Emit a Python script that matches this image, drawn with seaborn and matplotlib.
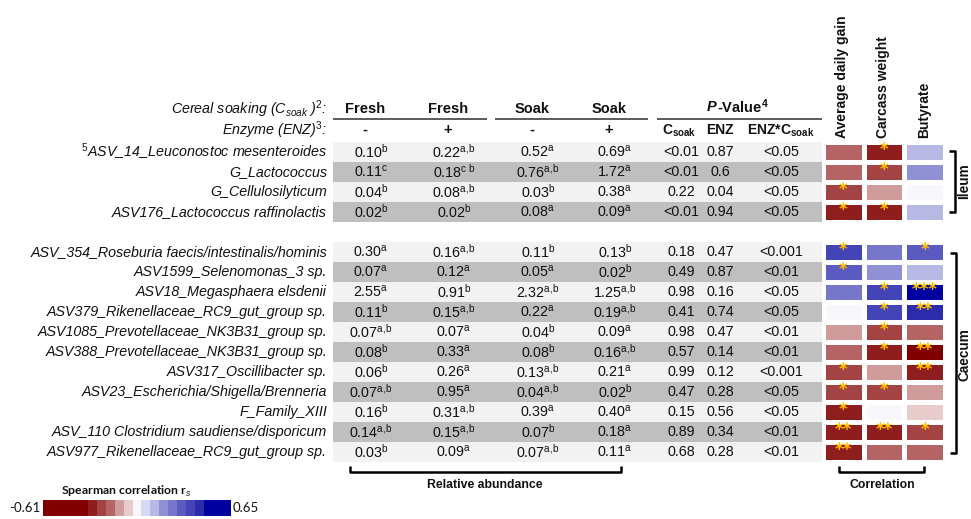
import numpy as np
import pandas as pd
import matplotlib
matplotlib.use("Agg")
import matplotlib.pyplot as plt
import seaborn as sns
from matplotlib.colors import ListedColormap, BoundaryNorm
from matplotlib.cm import ScalarMappable
from matplotlib.patches import Rectangle

plt.rcParams['font.family'] = ['Liberation Sans', 'DejaVu Sans']
plt.rcParams['mathtext.fontset'] = 'custom'
plt.rcParams['mathtext.rm'] = 'Liberation Sans'
plt.rcParams['mathtext.it'] = 'Liberation Sans:italic'
plt.rcParams['mathtext.bf'] = 'Liberation Sans:bold'

# ---- data ----
taxa = [
    "$^5$ASV_14_Leuconostoc mesenteroides",
    "G_Lactococcus",
    "G_Cellulosilyticum",
    "ASV176_Lactococcus raffinolactis",
    "ASV_354_Roseburia faecis/intestinalis/hominis",
    "ASV1599_Selenomonas_3 sp.",
    "ASV18_Megasphaera elsdenii",
    "ASV379_Rikenellaceae_RC9_gut_group sp.",
    "ASV1085_Prevotellaceae_NK3B31_group sp.",
    "ASV388_Prevotellaceae_NK3B31_group sp.",
    "ASV317_Oscillibacter sp.",
    "ASV23_Escherichia/Shigella/Brenneria",
    "F_Family_XIII",
    "ASV_110 Clostridium saudiense/disporicum",
    "ASV977_Rikenellaceae_RC9_gut_group sp.",
]
n_ileum = 4

fresh_minus = ["0.10", "0.11", "0.04", "0.02", "0.30", "0.07", "2.55", "0.11",
               "0.07", "0.08", "0.06", "0.07", "0.16", "0.14", "0.03"]
fresh_minus_sup = ["b", "c", "b", "b", "a", "a", "a", "b",
                   "a,b", "b", "b", "a,b", "b", "a,b", "b"]
fresh_plus = ["0.22", "0.18", "0.08", "0.02", "0.16", "0.12", "0.91", "0.15",
              "0.07", "0.33", "0.26", "0.95", "0.31", "0.15", "0.09"]
fresh_plus_sup = ["a,b", "c b", "a,b", "b", "a,b", "a", "b", "a,b",
                  "a", "a", "a", "a", "a,b", "a,b", "a"]
soak_minus = ["0.52", "0.76", "0.03", "0.08", "0.11", "0.05", "2.32", "0.22",
              "0.04", "0.08", "0.13", "0.04", "0.39", "0.07", "0.07"]
soak_minus_sup = ["a", "a,b", "b", "a", "b", "a", "a,b", "a",
                  "b", "b", "a,b", "a,b", "a", "b", "a,b"]
soak_plus = ["0.69", "1.72", "0.38", "0.09", "0.13", "0.02", "1.25", "0.19",
             "0.09", "0.16", "0.21", "0.02", "0.40", "0.18", "0.11"]
soak_plus_sup = ["a", "a", "a", "a", "b", "b", "a,b", "a,b",
                 "a", "a,b", "a", "b", "a", "a", "a"]

p_csoak = ["<0.01", "<0.01", "0.22", "<0.01", "0.18", "0.49", "0.98", "0.41",
           "0.98", "0.57", "0.99", "0.47", "0.15", "0.89", "0.68"]
p_enz = ["0.87", "0.6", "0.04", "0.94", "0.47", "0.87", "0.16", "0.74",
         "0.47", "0.14", "0.12", "0.28", "0.56", "0.34", "0.28"]
p_inter = ["<0.05", "<0.05", "<0.05", "<0.05", "<0.001", "<0.01", "<0.05", "<0.05",
           "<0.01", "<0.01", "<0.001", "<0.05", "<0.05", "<0.01", "<0.01"]

corr_traits = ["Average daily gain", "Carcass weight", "Butyrate"]
adg_r = [-0.17, -0.17, -0.23, -0.29, 0.38, 0.32, 0.26, 0.03,
         -0.10, -0.15, -0.22, -0.24, -0.27, -0.29, -0.30]
cw_r = [-0.27, -0.23, -0.10, -0.26, 0.25, 0.21, 0.38, 0.37,
        -0.23, -0.27, -0.08, -0.22, 0.03, -0.29, -0.15]
but_r = [0.12, 0.20, 0.02, 0.14, 0.33, 0.12, 0.60, 0.44,
         -0.16, -0.45, -0.30, -0.09, -0.04, -0.21, -0.18]
adg_sig = ["", "", "*", "*", "*", "*", "", "", "", "", "*", "*", "*", "**", "**"]
cw_sig = ["*", "*", "", "*", "", "", "*", "*", "*", "*", "", "*", "", "**", ""]
but_sig = ["", "", "", "", "*", "", "***", "**", "", "**", "**", "", "", "*", ""]

cbar_bounds = [-0.61, -0.31, -0.25, -0.19, -0.13, -0.07, -0.01, 0.05,
               0.11, 0.17, 0.23, 0.29, 0.35, 0.41, 0.47, 0.65]
cbar_colors = ["#800000", "#8e1e1e", "#a34343", "#b46464", "#cf9b9b", "#e8cccc",
               "#f7f7fc", "#d8d8f1", "#b8b8e4", "#9090d5", "#7676cb", "#5a5ac1",
               "#4444b6", "#2c2cab", "#0000a0"]

# ---- layout (pixels) ----
W, H = 971, 519
ROW0, PITCH = 142, 20
TAB_L, TAB_R = 333, 822
col_x = [368, 451, 535, 612]
p_x = [681, 720, 781]
txt = "#111111"
NUM_FS = 10.3


def grid_row(i):
    return i if i < n_ileum else i + 1


def row_y(i):
    return ROW0 + PITCH * grid_row(i) + PITCH / 2


def sup(s):
    s = s.replace(",", "{,}").replace(" ", r"\ ")
    return "$^{\\mathregular{" + s + "}}$"


fig = plt.figure(figsize=(W / 100, H / 100), dpi=100)
ax = fig.add_axes([0, 0, 1, 1])
ax.set_xlim(0, W)
ax.set_ylim(H, 0)
ax.axis("off")

# table rows
groups = [(fresh_minus, fresh_minus_sup), (fresh_plus, fresh_plus_sup),
          (soak_minus, soak_minus_sup), (soak_plus, soak_plus_sup)]
for i, name in enumerate(taxa):
    local = i if i < n_ileum else i - n_ileum
    shade = "#f2f2f2" if local % 2 == 0 else "#bfbfbf"
    top = ROW0 + PITCH * grid_row(i)
    ax.add_patch(Rectangle((TAB_L, top), TAB_R - TAB_L, PITCH, color=shade, lw=0))
    y = row_y(i)
    ax.text(327, y, name, ha="right", va="center", style="italic", fontsize=10.3, color=txt)
    for x, (vals, sups) in zip(col_x, groups):
        ax.text(x + 3, y, vals[i] + sup(sups[i]),
                ha="center", va="center", fontsize=NUM_FS, color=txt)
    for x, vals in zip(p_x, [p_csoak, p_enz, p_inter]):
        ax.text(x, y, vals[i], ha="center", va="center", fontsize=NUM_FS, color=txt)

# header
ax.text(327, 109, r"Cereal soaking (C$_{\mathit{soak}}$ )$^{\mathit{2}}$:", ha="right",
        va="center", style="italic", fontsize=10.3, color=txt)
ax.text(327, 130, r"Enzyme (ENZ)$^{\mathit{3}}$:", ha="right", va="center",
        style="italic", fontsize=10.3, color=txt)
for x, lab, sign in zip(col_x, ["Fresh", "Fresh", "Soak", "Soak"], ["-", "+", "-", "+"]):
    ax.text(x - 3, 109, lab, ha="center", va="center", fontsize=10.5, fontweight="bold", color=txt)
    ax.text(x - 3, 130, sign, ha="center", va="center", fontsize=10.5, fontweight="bold", color=txt)
ax.text(716, 107, "P", ha="right", va="center", fontsize=10.5, fontweight="bold",
        style="italic", color=txt)
ax.text(717, 107, "-Value$^{\\mathbf{4}}$", ha="left", va="center", fontsize=10.5,
        fontweight="bold", color=txt)
ax.text(p_x[0] - 2, 131, r"C$_{\mathbf{soak}}$", ha="center", va="center", fontsize=10,
        fontweight="bold", color=txt)
ax.text(p_x[1], 130, "ENZ", ha="center", va="center", fontsize=10, fontweight="bold", color=txt)
ax.text(p_x[2], 131, r"ENZ*C$_{\mathbf{soak}}$", ha="center", va="center", fontsize=10,
        fontweight="bold", color=txt)
for x0, x1 in [(333, 487), (495, 648), (657, 822)]:
    ax.plot([x0, x1], [119, 119], color="#404040", lw=1.2, solid_capstyle="butt")

# brackets
bk = dict(color="black", lw=1.8, solid_capstyle="butt")
ax.plot([350, 350, 621, 621], [466, 472, 472, 466], **bk)
ax.text(485, 485, "Relative abundance", ha="center", va="center", fontsize=8.8,
        fontweight="bold", color=txt)
ax.plot([839, 839, 924, 924], [466, 472, 472, 466], **bk)
ax.text(882, 485, "Correlation", ha="center", va="center", fontsize=8.8,
        fontweight="bold", color=txt)
ax.plot([949, 955, 955, 949], [151, 151, 212, 212], **bk)
ax.text(964.5, 181, "Ileum", rotation=90, ha="center", va="center", fontsize=9.8,
        fontweight="bold", color=txt)
ax.plot([950, 956, 956, 950], [253, 253, 453, 453], **bk)
ax.text(964.5, 355, "Caecum", rotation=90, ha="center", va="center", fontsize=9.8,
        fontweight="bold", color=txt)

# correlation heatmap
cmap = ListedColormap(cbar_colors)
norm = BoundaryNorm(cbar_bounds, cmap.N)
corr = pd.DataFrame({corr_traits[0]: adg_r, corr_traits[1]: cw_r, corr_traits[2]: but_r})
sig = pd.DataFrame({corr_traits[0]: adg_sig, corr_traits[1]: cw_sig, corr_traits[2]: but_sig})
blank_num = pd.DataFrame([[np.nan] * 3], columns=corr.columns)
blank_txt = pd.DataFrame([[""] * 3], columns=sig.columns)
corr = pd.concat([corr.iloc[:n_ileum], blank_num, corr.iloc[n_ileum:]], ignore_index=True)
sig = pd.concat([sig.iloc[:n_ileum], blank_txt, sig.iloc[n_ileum:]], ignore_index=True)

n_grid = len(corr)
hx0, hx1 = 823, 945
hy0, hy1 = ROW0, ROW0 + PITCH * n_grid
hax = fig.add_axes([hx0 / W, 1 - hy1 / H, (hx1 - hx0) / W, (hy1 - hy0) / H])
sns.heatmap(corr, cmap=cmap, norm=norm, cbar=False, linewidths=2.2, linecolor="white",
            annot=sig.values, fmt="", xticklabels=False, yticklabels=False,
            annot_kws=dict(color="#ffc000", fontsize=12, fontweight="bold",
                           family="DejaVu Sans"), ax=hax)
for t in hax.texts:
    x, y = t.get_position()
    t.set_position((x, y - 0.08))
for k, lab in enumerate(corr_traits):
    ax.text(hx0 + (hx1 - hx0) * (k + 0.5) / 3 - 1, 138, lab, rotation=90, ha="center",
            va="bottom", fontsize=10, fontweight="bold", color=txt)

# colour scale
cax = fig.add_axes([43 / W, 1 - 516 / H, 188 / W, 16 / H])
cb = fig.colorbar(ScalarMappable(norm=norm, cmap=cmap), cax=cax,
                  orientation="horizontal", spacing="proportional")
cb.minorticks_off()
cb.set_ticks([])
cax.tick_params(which="both", length=0)
cb.outline.set_visible(False)
ax.text(126, 491, r"Spearman correlation r$_{\mathit{s}}$", ha="center", va="center",
        fontsize=8.8, fontweight="bold", family="Lato", color=txt)
ax.text(40, 508, "-0.61", ha="right", va="center", fontsize=9.5, family="Lato", color=txt)
ax.text(233, 508, "0.65", ha="left", va="center", fontsize=9.5, family="Lato", color=txt)

fig.savefig("out.png", dpi=100)
